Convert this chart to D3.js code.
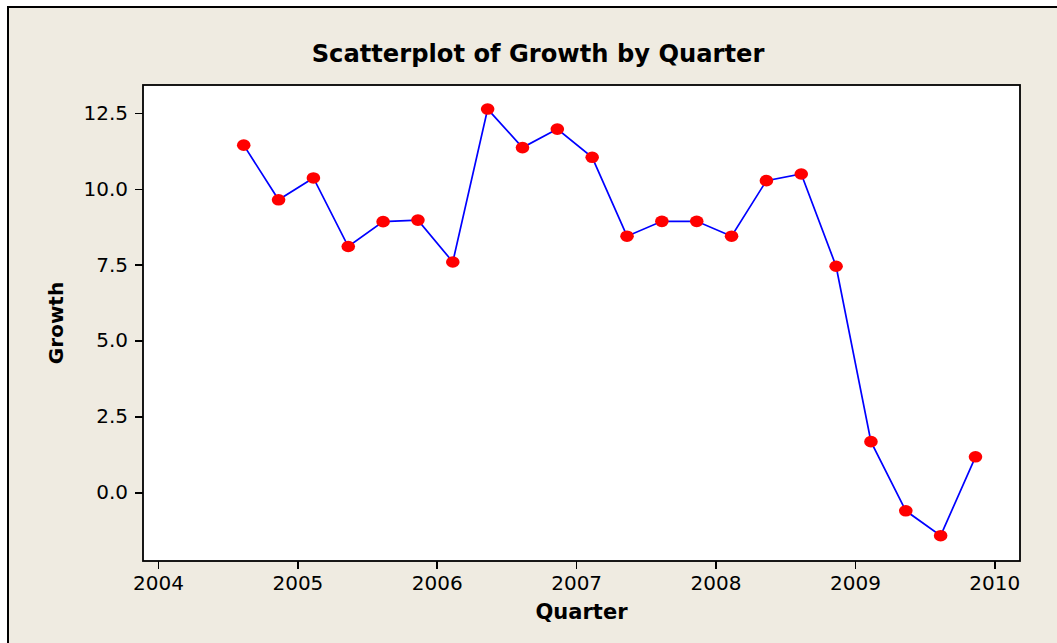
<!DOCTYPE html>
<html>
<head>
	<meta charset="utf-8">
	<title>Scatterplot of Growth by Quarter</title>
	<script src="https://d3js.org/d3.v7.min.js"></script>
	<style>
		body { margin: 0; background: #ffffff; }
		.axis text { font-family: "DejaVu Sans", Verdana, sans-serif; font-size: 20px; fill: #000; }
		.axis line { stroke: #000; stroke-width: 1.6px; shape-rendering: crispEdges; }
		.axis path { display: none; }
		.title, .label { font-family: "DejaVu Sans", Verdana, sans-serif; font-weight: bold; fill: #000; }
	</style>
</head>
<body>
<svg id="chart"></svg>
<script>
// quarters and growth
var quarters = ['2004 Q3', '2004 Q4',
	'2005 Q1', '2005 Q2', '2005 Q3', '2005 Q4',
	'2006 Q1', '2006 Q2', '2006 Q3', '2006 Q4',
	'2007 Q1', '2007 Q2', '2007 Q3', '2007 Q4',
	'2008 Q1', '2008 Q2', '2008 Q3', '2008 Q4',
	'2009 Q1', '2009 Q2', '2009 Q3', '2009 Q4'];
var growth = [11.44, 9.64, 10.36, 8.10, 8.92, 8.97,
	7.59, 12.63, 11.36, 11.97, 11.04, 8.44,
	8.93, 8.93, 8.44, 10.27, 10.49, 7.45,
	1.67, -0.61, -1.43, 1.17];
var xTicks = [2004, 2005, 2006, 2007, 2008, 2009, 2010];
var yTicks = [0, 2.5, 5, 7.5, 10, 12.5];

var W = 1057, H = 643;
var plot = {left: 143, top: 85, right: 1020, bottom: 561};

// quarter label -> decimal year (Minitab puts each quarter a bit after its start)
function quarterToYear(s) {
	var p = s.split(' Q');
	return +p[0] + (+p[1] - 1) * 0.25 + 0.115;
}

var data = quarters.map(function(q, i){ return {x: quarterToYear(q), y: growth[i]}; });

var x = d3.scaleLinear().domain([2004, 2010]).range([158, 994.3]);
var y = d3.scaleLinear().domain([0, 12.5]).range([492.3, 113]);

var svg = d3.select('#chart').attr('width', W).attr('height', H);

// beige frame, it runs past the right and bottom edge
svg.append('rect')
	.attr('x', 8).attr('y', 7)
	.attr('width', W + 20).attr('height', H + 20)
	.attr('fill', '#efebe1')
	.attr('stroke', '#000').attr('stroke-width', 2);

// plot area
svg.append('rect')
	.attr('x', plot.left).attr('y', plot.top)
	.attr('width', plot.right - plot.left).attr('height', plot.bottom - plot.top)
	.attr('fill', '#fff')
	.attr('stroke', '#000').attr('stroke-width', 1.8);

// axes
svg.append('g')
	.attr('class', 'x axis')
	.attr('transform', 'translate(0,' + plot.bottom + ')')
	.call(d3.axisBottom(x).tickValues(xTicks).tickFormat(d3.format('d')).tickSize(8).tickPadding(7));

svg.append('g')
	.attr('class', 'y axis')
	.attr('transform', 'translate(' + plot.left + ',0)')
	.call(d3.axisLeft(y).tickValues(yTicks).tickFormat(d3.format('.1f')).tickSize(8).tickPadding(7));

// title
svg.append('text')
	.attr('class', 'title')
	.attr('x', 538).attr('y', 62)
	.attr('text-anchor', 'middle')
	.style('font-size', '24.2px')
	.text('Scatterplot of Growth by Quarter');

// axis labels
svg.append('text')
	.attr('class', 'label')
	.attr('x', (plot.left + plot.right) / 2).attr('y', 619)
	.attr('text-anchor', 'middle')
	.style('font-size', '21px')
	.text('Quarter');

svg.append('text')
	.attr('class', 'label')
	.attr('transform', 'translate(63,' + (plot.top + plot.bottom) / 2 + ') rotate(-90)')
	.attr('text-anchor', 'middle')
	.style('font-size', '20px')
	.text('Growth');

// connect line
var line = d3.line()
	.x(function(d){ return x(d.x); })
	.y(function(d){ return y(d.y); });

svg.append('path')
	.datum(data)
	.attr('d', line)
	.attr('fill', 'none')
	.attr('stroke', '#0000ff')
	.attr('stroke-width', 1.7);

// points
svg.append('g')
	.selectAll('ellipse')
	.data(data)
	.enter()
	.append('ellipse')
		.attr('cx', function(d){ return x(d.x); })
		.attr('cy', function(d){ return y(d.y); })
		.attr('rx', 6.8)
		.attr('ry', 5.8)
		.attr('fill', '#ff0000');
</script>
</body>
</html>
